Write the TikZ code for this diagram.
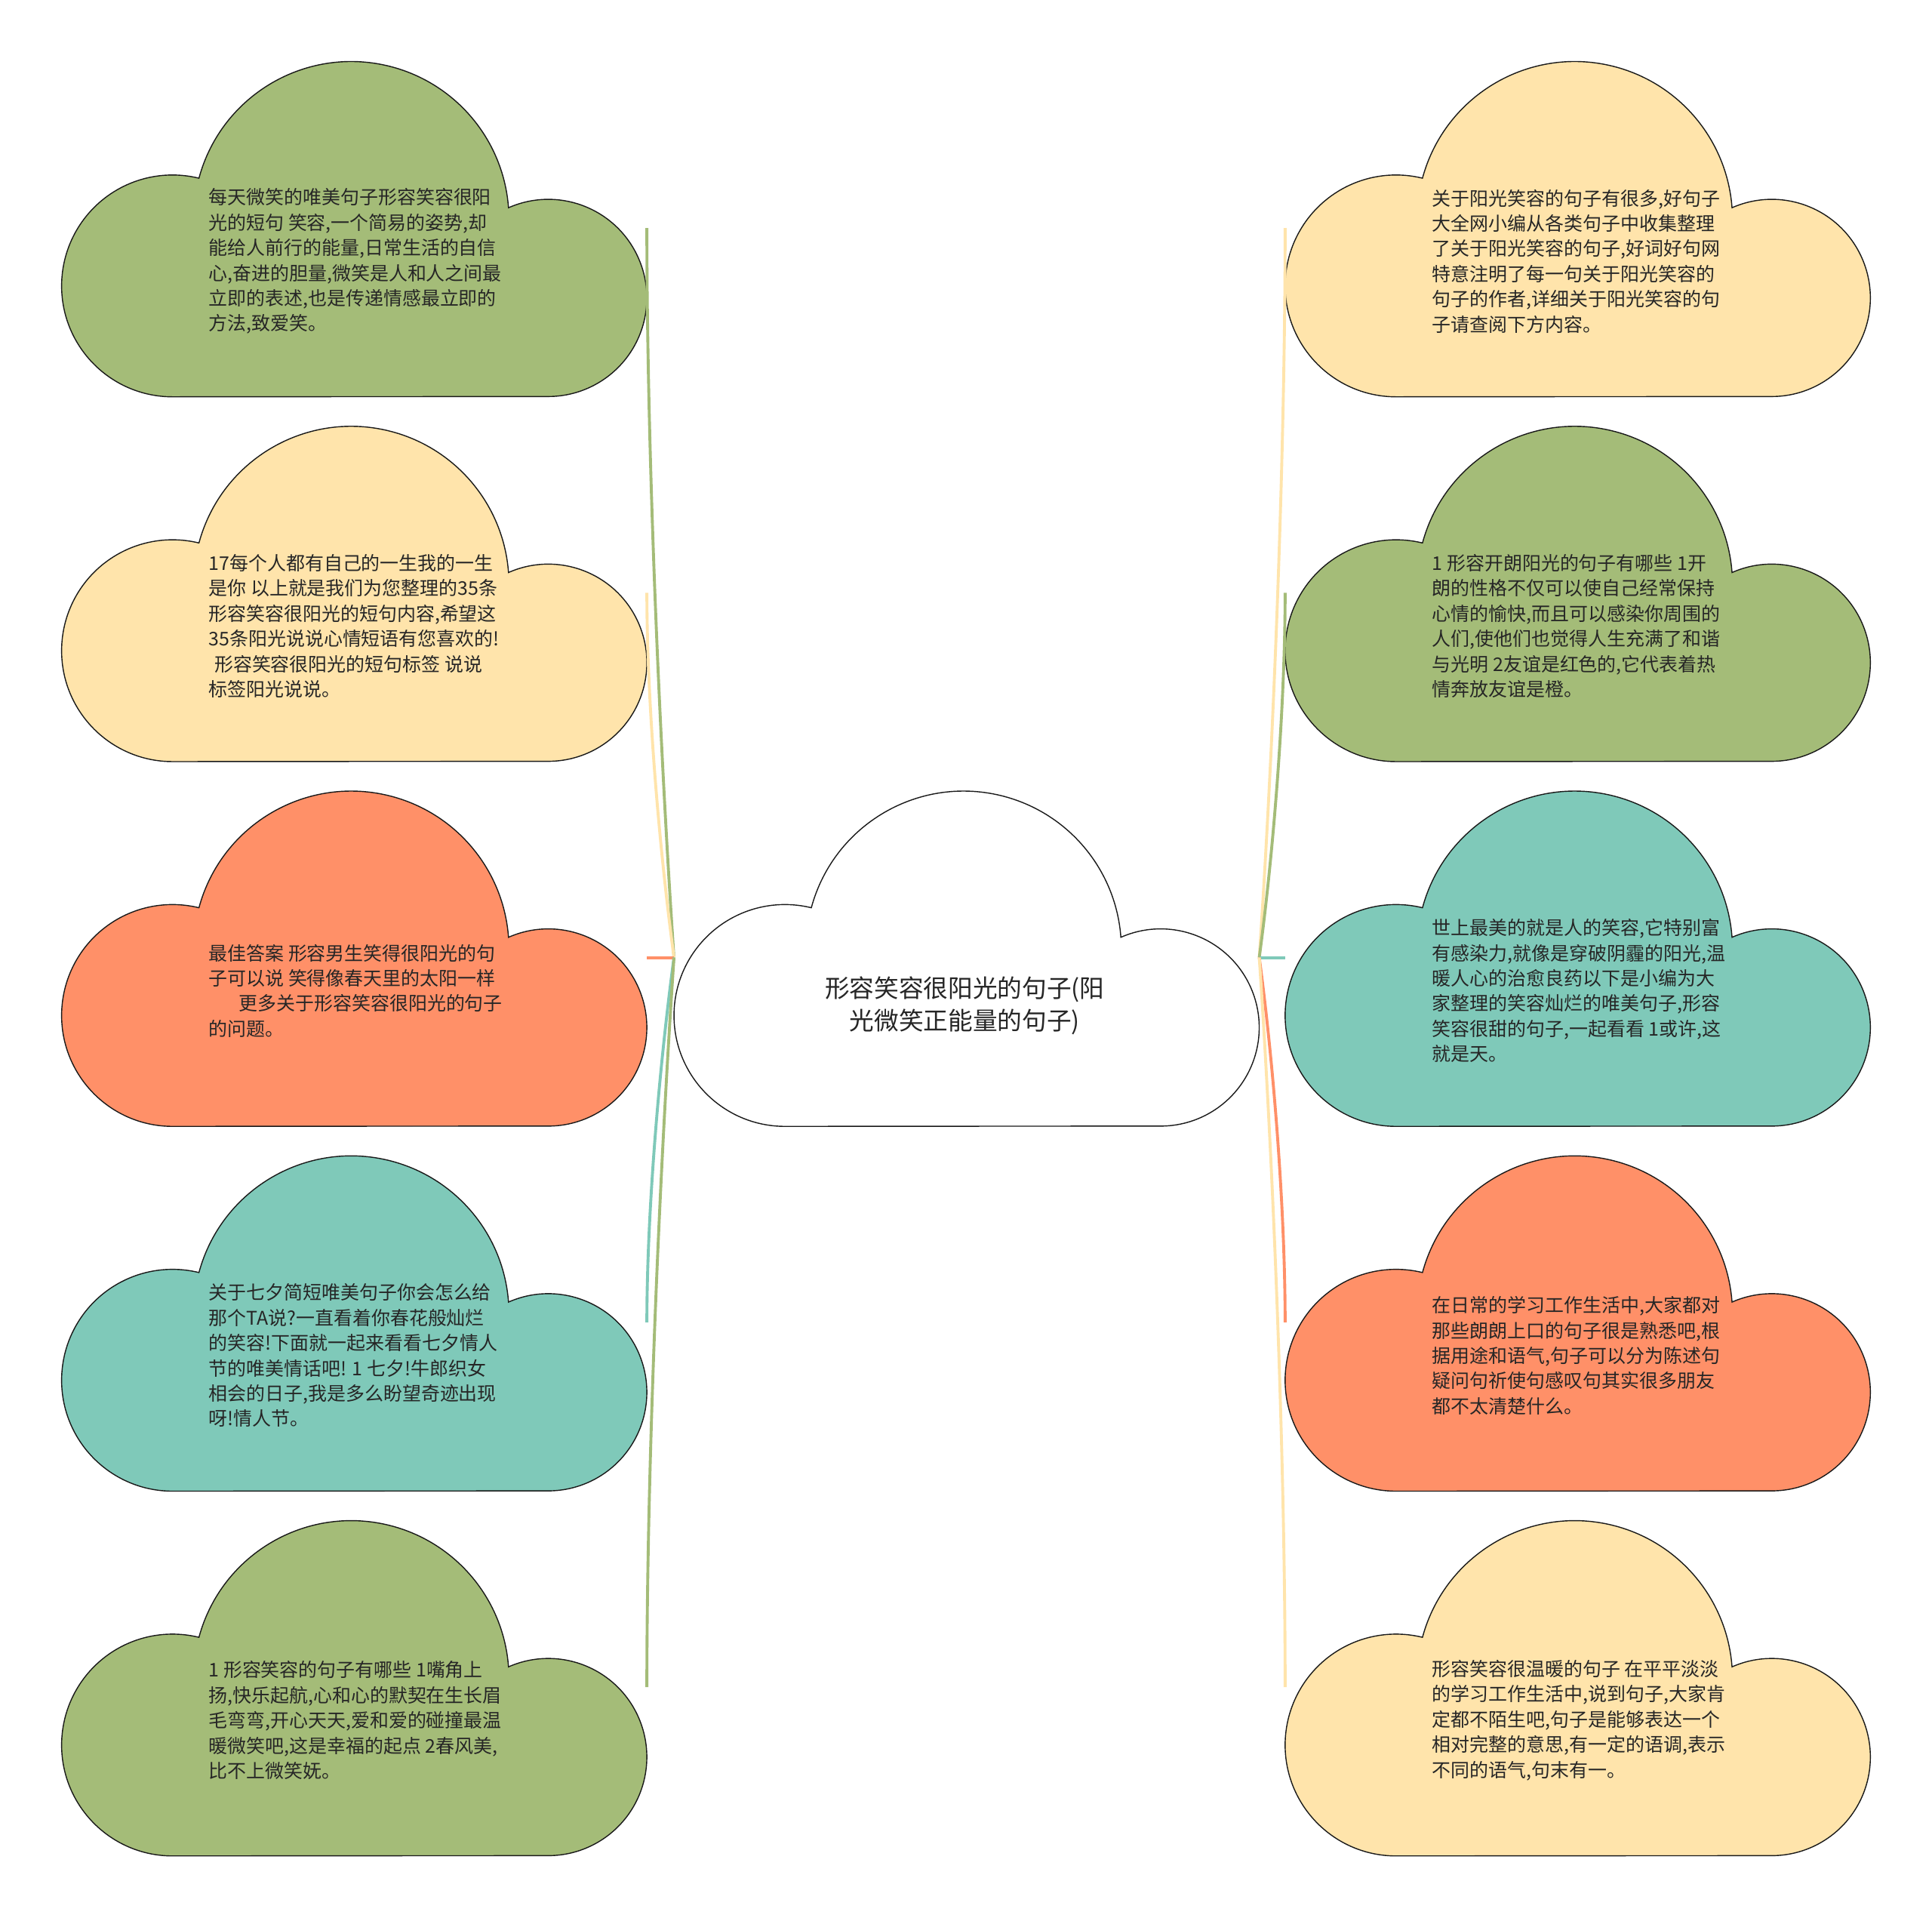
\documentclass[tikz,border=0pt]{standalone}
\usepackage{fontspec}
\newfontfamily\cjk{Noto Sans CJK SC}
\usepackage{tikz}

\definecolor{cgreen}{HTML}{A4BC78}
\definecolor{cyellow}{HTML}{FFE4AB}
\definecolor{csalmon}{HTML}{FF9068}
\definecolor{cteal}{HTML}{7FC9B9}

\tikzset{
  cloudline/.style={draw=black!90, line width=0.4pt},
  cloudtext/.style={anchor=west, align=left, inner sep=0pt, text=black!85,
    font={\cjk\fontsize{7.1pt}{9.5pt}\selectfont}},
  maintext/.style={align=center, inner sep=0pt, text=black!85,
    font={\cjk\fontsize{9.3pt}{12.3pt}\selectfont}},
  link/.style={line width=1.1pt}
}

% cloud outline, top left corner at (#2,#3)
\newcommand{\cloudshape}[4]{%
  \begin{scope}[shift={(#2,#3)}]
    \draw[cloudline, fill=#4] (90,272)
      arc[start angle=90, end angle=283.8, radius=90]
      arc[start angle=195.1, end angle=355.8, radius=128]
      arc[start angle=246.2, end angle=450, radius=80] -- cycle;
    \coordinate (#1-l) at (0,135);
    \coordinate (#1-r) at (475,135);
  \end{scope}}
\newcommand{\cloudat}[5]{%
  \cloudshape{#1}{#2}{#3}{#4}
  \node[cloudtext] (#1) at (#2+119,#3+162) {#5};}

\begin{document}
\begin{tikzpicture}[x=0.016327cm,y=-0.016327cm]
\useasboundingbox (0,0) rectangle (1568,1556);
\fill[white] (0,0) rectangle (1568,1556);

% centre
\cloudshape{main}{547}{642}{white}
\node[maintext] (title) at (783,816) {形容笑容很阳光的句子(阳\\光微笑正能量的句子)};

% left column
\cloudat{l1}{50}{50}{cgreen}{每天微笑的唯美句子形容笑容很阳\\光的短句 笑容,一个简易的姿势,却\\能给人前行的能量,日常生活的自信\\心,奋进的胆量,微笑是人和人之间最\\立即的表述,也是传递情感最立即的\\方法,致爱笑。}
\cloudat{l2}{50}{346}{cyellow}{17每个人都有自己的一生我的一生\\是你 以上就是我们为您整理的35条\\形容笑容很阳光的短句内容,希望这\\35条阳光说说心情短语有您喜欢的!\\\hspace*{0.3em}形容笑容很阳光的短句标签 说说\\标签阳光说说。}
\cloudat{l3}{50}{642}{csalmon}{最佳答案 形容男生笑得很阳光的句\\子可以说 笑得像春天里的太阳一样\\\hspace*{1.6em}更多关于形容笑容很阳光的句子\\的问题。}
\cloudat{l4}{50}{938}{cteal}{关于七夕简短唯美句子你会怎么给\\那个TA说?一直看着你春花般灿烂\\的笑容!下面就一起来看看七夕情人\\节的唯美情话吧! 1 七夕!牛郎织女\\相会的日子,我是多么盼望奇迹出现\\呀!情人节。}
\cloudat{l5}{50}{1234}{cgreen}{1 形容笑容的句子有哪些 1嘴角上\\扬,快乐起航,心和心的默契在生长眉\\毛弯弯,开心天天,爱和爱的碰撞最温\\暖微笑吧,这是幸福的起点 2春风美,\\比不上微笑妩。}

% right column
\cloudat{r1}{1043}{50}{cyellow}{关于阳光笑容的句子有很多,好句子\\大全网小编从各类句子中收集整理\\了关于阳光笑容的句子,好词好句网\\特意注明了每一句关于阳光笑容的\\句子的作者,详细关于阳光笑容的句\\子请查阅下方内容。}
\cloudat{r2}{1043}{346}{cgreen}{1 形容开朗阳光的句子有哪些 1开\\朗的性格不仅可以使自己经常保持\\心情的愉快,而且可以感染你周围的\\人们,使他们也觉得人生充满了和谐\\与光明 2友谊是红色的,它代表着热\\情奔放友谊是橙。}
\cloudat{r3}{1043}{642}{cteal}{世上最美的就是人的笑容,它特别富\\有感染力,就像是穿破阴霾的阳光,温\\暖人心的治愈良药以下是小编为大\\家整理的笑容灿烂的唯美句子,形容\\笑容很甜的句子,一起看看 1或许,这\\就是天。}
\cloudat{r4}{1043}{938}{csalmon}{在日常的学习工作生活中,大家都对\\那些朗朗上口的句子很是熟悉吧,根\\据用途和语气,句子可以分为陈述句\\疑问句祈使句感叹句其实很多朋友\\都不太清楚什么。}
\cloudat{r5}{1043}{1234}{cyellow}{形容笑容很温暖的句子 在平平淡淡\\的学习工作生活中,说到句子,大家肯\\定都不陌生吧,句子是能够表达一个\\相对完整的意思,有一定的语调,表示\\不同的语气,句末有一。}

% links
\foreach \n/\c/\a/\b in {l1/cgreen/-178/178, l2/cyellow/-89/89, l3/csalmon/0/0, l4/cteal/89/-89, l5/cgreen/178/-178}
  \draw[link,\c] (main-l) .. controls +(-12,\a) and +(0,\b) .. (\n-r);
\foreach \n/\c/\a/\b in {r1/cyellow/-178/178, r2/cgreen/-89/89, r3/cteal/0/0, r4/csalmon/89/-89, r5/cyellow/178/-178}
  \draw[link,\c] (main-r) .. controls +(12,\a) and +(0,\b) .. (\n-l);
\end{tikzpicture}
\end{document}
